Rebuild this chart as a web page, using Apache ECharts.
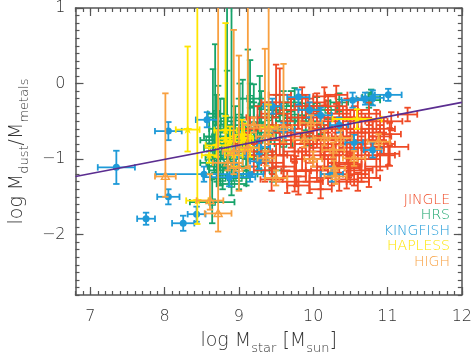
<!DOCTYPE html>
<html>
<head>
<meta charset="utf-8">
<script src="https://cdn.jsdelivr.net/npm/echarts@6/dist/echarts.min.js"></script>
<style>
  html, body { margin: 0; padding: 0; background: #fff; }
  #chart { width: 475px; height: 360px; }
</style>
</head>
<body>
<div id="chart"></div>
<script>
// rows: [log Mstar, log Mdust/Mmetals, x error, y error low, y error high]
const jingle = [
  [11.27, -0.41, 0.13, 0.09, 0.09], [11.03, -0.67, 0.15, 0.15, 0.15], [11.03, -0.84, 0.25, 0.25, 0.25],
  [10.48, -1.12, 0.15, 0.12, 0.12], [10.45, -1.27, 0.15, 0.12, 0.12], [9.77, -1.16, 0.2, 0.2, 0.2],
  [9.44, -1.27, 0.15, 0.15, 0.15], [9.75, -1.23, 0.15, 0.2, 0.2], [10.47, -1.1, 0.15, 0.15, 0.15],
  [11.01, -0.93, 0.15, 0.15, 0.15], [10.5, -1.07, 0.15, 0.15, 0.15], [9.5, -0.25, 0.2, 0.2, 0.5],
  [9.55, -0.15, 0.15, 0.15, 0.35], [10.15, -0.17, 0.15, 0.12, 0.12], [10.31, -0.15, 0.15, 0.12, 0.12],
  [10.05, -0.25, 0.12, 0.12, 0.12], [9.3, -0.9, 0.15, 0.15, 0.15], [9.35, -0.6, 0.12, 0.15, 0.15],
  [9.4, -0.75, 0.15, 0.15, 0.15], [9.45, -1.05, 0.15, 0.15, 0.15], [9.55, -0.8, 0.15, 0.15, 0.15],
  [9.6, -0.95, 0.15, 0.15, 0.15], [9.65, -0.55, 0.15, 0.15, 0.15], [9.7, -0.7, 0.15, 0.15, 0.15],
  [9.75, -0.9, 0.15, 0.15, 0.15], [9.8, -0.45, 0.15, 0.15, 0.15], [9.85, -0.65, 0.15, 0.15, 0.15],
  [9.85, -1.0, 0.15, 0.15, 0.15], [9.9, -0.8, 0.15, 0.15, 0.15], [9.95, -0.55, 0.15, 0.15, 0.15],
  [10.0, -0.7, 0.15, 0.15, 0.15], [10.0, -0.95, 0.15, 0.15, 0.15], [10.05, -1.15, 0.15, 0.15, 0.15],
  [10.1, -0.6, 0.15, 0.15, 0.15], [10.1, -0.85, 0.15, 0.15, 0.15], [10.15, -1.0, 0.15, 0.15, 0.15],
  [10.2, -0.5, 0.15, 0.15, 0.15], [10.2, -0.75, 0.15, 0.15, 0.15], [10.25, -0.95, 0.15, 0.15, 0.15],
  [10.3, -0.6, 0.15, 0.15, 0.15], [10.3, -0.8, 0.15, 0.15, 0.15], [10.35, -1.05, 0.15, 0.15, 0.15],
  [10.4, -0.45, 0.15, 0.15, 0.15], [10.4, -0.7, 0.15, 0.15, 0.15], [10.45, -0.9, 0.15, 0.15, 0.15],
  [10.5, -0.6, 0.15, 0.15, 0.15], [10.55, -0.8, 0.15, 0.15, 0.15], [10.6, -0.65, 0.15, 0.15, 0.15],
  [10.6, -0.95, 0.15, 0.15, 0.15], [10.65, -0.5, 0.15, 0.15, 0.15], [10.7, -0.75, 0.15, 0.15, 0.15],
  [10.7, -1.0, 0.2, 0.2, 0.2], [10.75, -0.6, 0.15, 0.15, 0.15], [10.8, -0.85, 0.15, 0.15, 0.15],
  [10.85, -0.5, 0.15, 0.15, 0.15], [10.9, -0.7, 0.15, 0.15, 0.15], [10.95, -0.6, 0.15, 0.15, 0.15],
  [11.05, -0.5, 0.15, 0.12, 0.12], [10.0, -0.45, 0.15, 0.15, 0.15], [9.9, -0.3, 0.15, 0.15, 0.15],
  [10.45, -0.35, 0.15, 0.15, 0.15], [10.6, -0.35, 0.15, 0.15, 0.15], [10.25, -1.2, 0.15, 0.15, 0.15],
  [9.6, -1.1, 0.15, 0.15, 0.15], [9.2, -0.95, 0.15, 0.15, 0.15], [9.15, -0.6, 0.15, 0.15, 0.15],
  [9.25, -0.45, 0.15, 0.15, 0.15], [10.85, -1.1, 0.15, 0.15, 0.15], [10.55, -1.2, 0.15, 0.15, 0.15],
  [9.95, -1.3, 0.18, 0.15, 0.15], [10.1, -1.25, 0.15, 0.15, 0.15], [10.35, -1.3, 0.15, 0.12, 0.12],
  [9.65, -1.3, 0.15, 0.15, 0.15], [9.9, -1.15, 0.15, 0.15, 0.15], [10.2, -1.1, 0.15, 0.15, 0.15],
  [10.65, -1.15, 0.15, 0.15, 0.15], [10.75, -1.25, 0.15, 0.12, 0.12], [10.9, -0.95, 0.2, 0.2, 0.2],
  [9.7, -0.35, 0.15, 0.15, 0.15], [9.85, -0.2, 0.15, 0.15, 0.15], [10.2, -0.3, 0.15, 0.15, 0.15],
  [10.35, -0.4, 0.15, 0.15, 0.15], [10.55, -0.45, 0.15, 0.15, 0.15], [10.75, -0.4, 0.15, 0.15, 0.15],
  [9.45, -0.4, 0.15, 0.15, 0.15], [9.6, -0.65, 0.15, 0.15, 0.15], [9.75, -0.75, 0.15, 0.15, 0.15],
  [9.95, -0.9, 0.15, 0.15, 0.15], [10.05, -0.55, 0.15, 0.15, 0.15], [10.15, -0.8, 0.15, 0.15, 0.15],
  [10.3, -0.95, 0.15, 0.15, 0.15], [10.4, -0.6, 0.15, 0.15, 0.15], [10.5, -0.85, 0.15, 0.15, 0.15],
  [10.65, -0.85, 0.15, 0.15, 0.15], [10.8, -0.65, 0.15, 0.15, 0.15], [10.95, -0.8, 0.15, 0.15, 0.15],
  [9.35, -1.15, 0.15, 0.15, 0.15], [9.5, -0.95, 0.15, 0.15, 0.15], [9.1, -0.8, 0.15, 0.15, 0.15],
  [10.1, -1.4, 0.15, 0.12, 0.12], [9.8, -1.35, 0.15, 0.12, 0.12], [10.6, -1.3, 0.15, 0.12, 0.12]
];
const hrs = [
  [8.68, -0.7, 0.15, 0.25, 1.22], [8.65, -0.85, 0.12, 0.2, 1.04], [8.72, -0.95, 0.12, 0.3, 0.92],
  [8.84, -0.75, 0.15, 0.3, 2.5], [8.9, -0.6, 0.15, 0.2, 2.5], [8.84, -1.0, 0.12, 0.25, 1.17],
  [9.12, -0.62, 0.15, 0.2, 1.07], [9.15, -0.8, 0.12, 0.2, 1.11], [9.01, -0.7, 0.15, 0.2, 0.7],
  [9.2, -0.55, 0.12, 0.15, 0.54], [9.28, -0.75, 0.15, 0.2, 0.85], [9.75, -0.45, 0.15, 0.15, 0.39],
  [8.64, -1.57, 0.3, 0.28, 0.3], [8.67, -0.98, 0.12, 0.2, 0.3], [8.9, -1.33, 0.2, 0.15, 0.3],
  [8.6, -1.05, 0.12, 0.15, 0.25], [8.75, -1.15, 0.15, 0.2, 0.25], [8.95, -1.1, 0.15, 0.15, 0.2],
  [9.05, -0.95, 0.15, 0.15, 0.2], [9.1, -1.2, 0.15, 0.15, 0.2], [9.25, -1.0, 0.12, 0.15, 0.2],
  [9.35, -0.9, 0.15, 0.15, 0.2], [9.4, -0.45, 0.15, 0.15, 0.2], [9.5, -0.6, 0.15, 0.15, 0.2],
  [9.55, -0.35, 0.15, 0.15, 0.2], [9.6, -0.8, 0.12, 0.15, 0.2], [9.7, -0.25, 0.15, 0.12, 0.15],
  [9.85, -0.3, 0.15, 0.12, 0.15], [9.9, -0.5, 0.15, 0.12, 0.15], [10.05, -0.3, 0.15, 0.12, 0.12],
  [10.2, -0.35, 0.12, 0.12, 0.12], [10.35, -0.25, 0.12, 0.12, 0.12], [10.75, -0.22, 0.15, 0.1, 0.1],
  [10.78, -0.18, 0.12, 0.1, 0.1], [8.8, -0.5, 0.15, 0.15, 0.3], [8.7, -0.4, 0.12, 0.15, 0.25],
  [9.0, -0.45, 0.15, 0.15, 0.25], [9.3, -0.3, 0.15, 0.15, 0.2], [8.6, -0.75, 0.12, 0.15, 0.3],
  [9.45, -1.15, 0.15, 0.15, 0.2], [9.15, -0.2, 0.15, 0.12, 0.2], [9.95, -0.7, 0.12, 0.12, 0.15],
  [8.78, -1.25, 0.15, 0.15, 0.2], [9.65, -0.5, 0.15, 0.12, 0.15], [10.1, -0.55, 0.12, 0.12, 0.12],
  [8.75, -0.6, 0.15, 0.2, 0.4], [8.85, -0.9, 0.15, 0.2, 0.35], [8.95, -0.8, 0.15, 0.2, 0.5],
  [9.05, -0.55, 0.15, 0.2, 0.6], [9.1, -0.95, 0.15, 0.2, 0.3], [9.2, -0.7, 0.15, 0.2, 0.45],
  [9.3, -0.55, 0.15, 0.2, 0.35], [9.4, -0.65, 0.15, 0.15, 0.3], [9.5, -0.4, 0.15, 0.15, 0.25],
  [8.7, -1.1, 0.12, 0.2, 0.3], [9.0, -1.25, 0.15, 0.15, 0.2], [9.6, -0.3, 0.15, 0.12, 0.2]
];
const kingfish = [
  [7.35, -1.11, 0.25, 0.22, 0.22], [7.75, -1.79, 0.12, 0.08, 0.08], [8.05, -1.5, 0.15, 0.1, 0.1],
  [8.25, -1.85, 0.15, 0.1, 0.1], [8.43, -1.73, 0.12, 0.1, 0.1], [8.05, -0.63, 0.18, 0.12, 0.12],
  [8.53, -1.2, 0.65, 0.1, 0.1], [8.87, -1.24, 0.35, 0.12, 0.12], [9.15, -1.2, 0.18, 0.1, 0.1],
  [8.57, -0.48, 0.15, 0.1, 0.1], [8.95, -0.95, 0.15, 0.12, 0.12], [9.27, -0.84, 0.15, 0.1, 0.1],
  [9.27, -1.03, 0.12, 0.1, 0.1], [9.6, -0.62, 0.15, 0.1, 0.1], [9.8, -0.18, 0.15, 0.1, 0.1],
  [9.95, -0.35, 0.15, 0.1, 0.1], [10.1, -0.42, 0.15, 0.1, 0.1], [10.25, -1.2, 0.15, 0.1, 0.1],
  [10.35, -0.55, 0.12, 0.1, 0.1], [10.53, -0.22, 0.15, 0.1, 0.1], [10.8, -0.19, 0.15, 0.1, 0.1],
  [11.01, -0.15, 0.18, 0.08, 0.08], [10.8, -0.88, 0.12, 0.1, 0.1], [10.55, -0.78, 0.12, 0.1, 0.1],
  [9.45, -0.3, 0.12, 0.1, 0.1], [10.7, -0.2, 0.12, 0.08, 0.08]
];
const hapless = [
  [8.31, -0.61, 0.16, 0.29, 1.1], [8.44, -1.55, 0.15, 0.31, 2.8], [8.82, -0.62, 0.15, 0.2, 1.42],
  [8.82, -0.73, 0.12, 0.15, 0.3], [8.93, -0.95, 0.12, 0.15, 0.25], [9.07, -0.73, 0.12, 0.15, 0.2],
  [8.88, -0.77, 0.15, 0.15, 0.2], [9.04, -0.68, 0.12, 0.12, 0.2], [9.4, -0.58, 0.12, 0.1, 0.3],
  [9.15, -0.85, 0.12, 0.12, 0.15], [10.59, -0.47, 0.33, 0.13, 0.13], [8.7, -0.82, 0.15, 0.15, 0.2],
  [8.6, -0.95, 0.1, 0.1, 0.1]
];
const high = [
  [8.01, -1.23, 0.14, 0.27, 1.1], [8.61, -1.55, 0.18, 0.12, 0.35], [8.72, -1.72, 0.18, 0.24, 2.9],
  [8.93, -0.9, 0.15, 0.3, 1.61], [9.0, -1.12, 0.15, 0.3, 1.49], [9.12, -0.85, 0.15, 0.25, 2.0],
  [9.35, -0.7, 0.12, 0.2, 1.16], [9.4, -0.6, 0.12, 0.2, 1.8], [9.6, -0.58, 0.12, 0.2, 0.84],
  [9.97, -0.52, 0.15, 0.1, 0.1], [9.88, -0.74, 0.15, 0.1, 0.1], [10.15, -0.72, 0.15, 0.1, 0.1],
  [10.37, -0.72, 0.15, 0.1, 0.1], [10.27, -0.88, 0.15, 0.1, 0.1], [10.55, -0.99, 0.15, 0.1, 0.1],
  [10.28, -1.12, 0.15, 0.1, 0.1], [9.37, -0.99, 0.12, 0.1, 0.1], [10.88, -0.77, 0.15, 0.1, 0.1],
  [10.3, -1.23, 0.15, 0.1, 0.1], [9.2, -0.55, 0.15, 0.1, 0.1], [8.85, -1.05, 0.2, 0.1, 0.1],
  [9.5, -1.25, 0.15, 0.1, 0.1], [10.0, -1.0, 0.12, 0.1, 0.1]
];
const fitX = [6.8, 12];
const fitY = [-1.23, -0.25];
const xMajor = [7, 8, 9, 10, 11, 12];
const yMajor = [-2, -1, 0, 1];
const surveyNames = ['JINGLE', 'HRS', 'KINGFISH', 'HAPLESS', 'HIGH'];

const colors = { JINGLE: '#ef4a26', HRS: '#17a36a', KINGFISH: '#1e9ad8', HAPLESS: '#ffe500', HIGH: '#f8a040' };
const font = 'DejaVu Sans';
const weight = 200;
const axisColor = '#555';

let chart = echarts.init(document.getElementById('chart'));

function marker(kind, c, color) {
  if (kind === 'circle') {
    return { type: 'circle', shape: { cx: c[0], cy: c[1], r: 3.5 }, style: { fill: color } };
  }
  if (kind === 'square') {
    return { type: 'rect', shape: { x: c[0] - 3, y: c[1] - 3, width: 6, height: 6 }, style: { fill: null, stroke: color, lineWidth: 1.4 } };
  }
  if (kind === 'triangle') {
    return { type: 'polygon', shape: { points: [[c[0], c[1] - 4], [c[0] + 4, c[1] + 3], [c[0] - 4, c[1] + 3]] }, style: { fill: null, stroke: color, lineWidth: 1.4 } };
  }
  if (kind === 'star') {
    let pts = [];
    for (let i = 0; i < 10; i++) {
      let r = i % 2 ? 2 : 5;
      let a = -Math.PI / 2 + i * Math.PI / 5;
      pts.push([c[0] + r * Math.cos(a), c[1] + r * Math.sin(a)]);
    }
    return { type: 'polygon', shape: { points: pts }, style: { fill: color } };
  }
  return null;
}

function errorSeries(name, data, kind) {
  let color = colors[name];
  return {
    name: name,
    type: 'custom',
    data: data,
    clip: true,
    encode: { x: 0, y: 1 },
    renderItem: function (params, api) {
      let x = api.value(0), y = api.value(1);
      let dx = api.value(2), lo = api.value(3), hi = api.value(4);
      let c = api.coord([x, y]);
      let l = api.coord([x - dx, y]), r = api.coord([x + dx, y]);
      let b = api.coord([x, y - lo]), t = api.coord([x, y + hi]);
      let st = { stroke: color, lineWidth: 1.8 };
      let cap = 3.2;
      let children = [
        { type: 'line', shape: { x1: l[0], y1: l[1], x2: r[0], y2: r[1] }, style: st },
        { type: 'line', shape: { x1: b[0], y1: b[1], x2: t[0], y2: t[1] }, style: st },
        { type: 'line', shape: { x1: l[0], y1: l[1] - cap, x2: l[0], y2: l[1] + cap }, style: st },
        { type: 'line', shape: { x1: r[0], y1: r[1] - cap, x2: r[0], y2: r[1] + cap }, style: st },
        { type: 'line', shape: { x1: b[0] - cap, y1: b[1], x2: b[0] + cap, y2: b[1] }, style: st },
        { type: 'line', shape: { x1: t[0] - cap, y1: t[1], x2: t[0] + cap, y2: t[1] }, style: st }
      ];
      let m = marker(kind, c, color);
      if (m) children.push(m);
      return { type: 'group', children: children };
    }
  };
}

const richName = {
  m: { fontFamily: font, fontWeight: weight, fontSize: 19, color: '#333', lineHeight: 21, verticalAlign: 'top' },
  s: { fontFamily: font, fontWeight: weight, fontSize: 13, color: '#333', lineHeight: 15, padding: [10, 0, 0, 0], verticalAlign: 'top' }
};

function xAx(pos, major) {
  let a = {
    type: 'value', min: 6.8, max: 12, position: pos,
    splitLine: { show: false },
    axisLine: { show: major, onZero: false, lineStyle: { color: axisColor, width: 1.5 } },
    axisTick: { inside: true, length: major ? 8 : 4, lineStyle: { color: axisColor, width: 1.2 } },
    axisLabel: { show: false }
  };
  if (major) {
    a.axisTick.customValues = xMajor;
  } else {
    a.interval = 0.1;
  }
  return a;
}
function yAx(pos, major) {
  let a = {
    type: 'value', min: -2.8, max: 1, position: pos,
    splitLine: { show: false },
    axisLine: { show: major, onZero: false, lineStyle: { color: axisColor, width: 1.5 } },
    axisTick: { inside: true, length: major ? 8 : 4, lineStyle: { color: axisColor, width: 1.2 } },
    axisLabel: { show: false }
  };
  if (major) {
    a.axisTick.customValues = yMajor;
  } else {
    a.interval = 0.1;
  }
  return a;
}

let xAxes = [xAx('bottom', true), xAx('bottom', false), xAx('top', true), xAx('top', false)];
let yAxes = [yAx('left', true), yAx('left', false), yAx('right', true), yAx('right', false)];

xAxes[0].axisLabel = { show: true, customValues: xMajor, margin: 14, fontSize: 16, fontFamily: font, fontWeight: weight, color: '#333' };
xAxes[0].name = '{m|log M}{s|star}{m| [M}{s|sun}{m|]}';
xAxes[0].nameLocation = 'middle';
xAxes[0].nameGap = 37;
xAxes[0].nameTextStyle = { rich: richName };

yAxes[0].axisLabel = {
  show: true, customValues: yMajor, margin: 10, fontSize: 16, fontFamily: font, fontWeight: weight, color: '#333',
  formatter: v => String(v).replace('-', '\u2212')
};
yAxes[0].name = '{m|log M}{s|dust}{m|/M}{s|metals}';
yAxes[0].nameLocation = 'middle';
yAxes[0].nameGap = 46;
yAxes[0].nameTextStyle = { rich: richName };

let series = [
  errorSeries('HRS', hrs, 'square'),
  errorSeries('JINGLE', jingle, null),
  errorSeries('KINGFISH', kingfish, 'circle'),
  errorSeries('HAPLESS', hapless, 'star'),
  errorSeries('HIGH', high, 'triangle'),
  {
    type: 'line',
    data: fitX.map((x, i) => [x, fitY[i]]),
    symbol: 'none',
    z: 5,
    lineStyle: { color: '#5b2d90', width: 1.6 }
  }
];

chart.setOption({
  animation: false,
  grid: { left: 72, right: 13, top: 2, bottom: 63 },
  legend: surveyNames.map((n, i) => ({
    data: [n],
    right: 25,
    top: 193 + i * 15.6,
    icon: 'none',
    itemWidth: 0,
    itemHeight: 14,
    padding: 0,
    selectedMode: false,
    textStyle: { color: colors[n], fontSize: 14, fontFamily: font, fontWeight: 300 }
  })),
  xAxis: xAxes,
  yAxis: yAxes,
  series: series
});
</script>
</body>
</html>
